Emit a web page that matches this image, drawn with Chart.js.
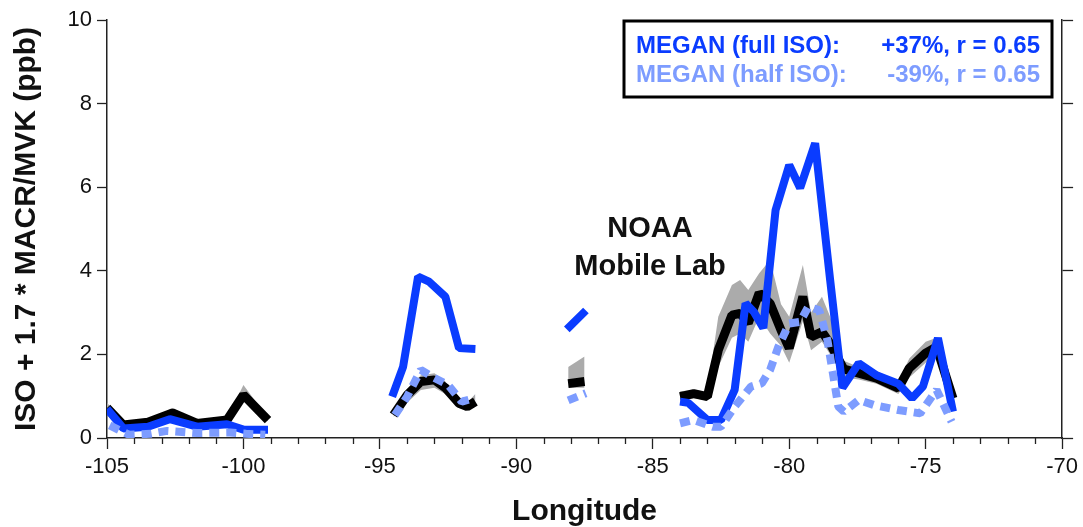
<!DOCTYPE html>
<html>
<head>
<meta charset="utf-8">
<script src="https://cdn.jsdelivr.net/npm/chart.js@4.4.1/dist/chart.umd.min.js"></script>
<style>
  html, body { margin: 0; padding: 0; background: #fff; }
  #wrap { width: 1083px; height: 527px; }
</style>
</head>
<body>
<div id="wrap"><canvas id="isoChart" width="1083" height="527"></canvas></div>
<script>
// Observed ISO + 1.7*MACR/MVK along the track, one sub-array per leg
const obsLon = [
  [-105, -104.4, -103.5, -102.6, -101.7, -100.6, -100, -99.1],
  [-94.5, -94.0, -93.5, -93.0, -92.6, -92.1, -91.8, -91.5],
  [-88.1, -87.5],
  [-84, -83.5, -83, -82.6, -82.1, -81.8, -81.5, -81.1, -80.7, -80.3, -80, -79.5, -79.2, -78.8, -78.5, -78, -77.45, -76.8, -76, -75.6, -75, -74.6, -74]
]
const obsPpb = [
  [0.72, 0.31, 0.38, 0.6, 0.35, 0.43, 1.03, 0.43],
  [0.55, 1.03, 1.35, 1.39, 1.2, 0.83, 0.75, 0.87],
  [1.3, 1.35],
  [0.99, 1.06, 0.99, 2.1, 2.94, 2.98, 2.75, 3.47, 3.22, 2.58, 2.15, 3.38, 2.42, 2.54, 2.26, 1.65, 1.55, 1.43, 1.19, 1.67, 2.03, 2.18, 0.95]
]
// spread of the observations (grey band)
const obsHigh = [
  [0.85, 0.34, 0.42, 0.72, 0.38, 0.47, 1.27, 0.47],
  [0.65, 1.12, 1.5, 1.55, 1.35, 0.95, 0.85, 1.05],
  [1.7, 1.95],
  [1.12, 1.15, 1.1, 2.9, 3.66, 3.78, 3.54, 3.94, 4.26, 3.2, 2.9, 4.14, 3.0, 3.38, 2.9, 1.85, 1.7, 1.6, 1.35, 1.9, 2.3, 2.4, 1.05]
]
const obsLow = [
  [0.65, 0.28, 0.35, 0.52, 0.32, 0.40, 0.95, 0.40],
  [0.5, 0.85, 1.15, 1.2, 1.05, 0.72, 0.68, 0.8],
  [1.2, 1.2],
  [0.9, 0.95, 0.9, 1.7, 2.4, 2.5, 2.3, 2.9, 2.5, 2.2, 1.8, 2.8, 2.1, 2.3, 2.0, 1.45, 1.4, 1.3, 1.05, 1.45, 1.8, 2.0, 0.85]
]

// MEGAN, full isoprene emissions
const fullLon = [
  [-105, -104.4, -103.5, -102.7, -101.7, -100.6, -100, -99.1],
  [-94.55, -94.15, -93.6, -93.2, -92.6, -92.1, -91.5],
  [-88.15, -87.45],
  [-84, -83.7, -83, -82.5, -82, -81.6, -81.3, -80.95, -80.5, -80, -79.6, -79.05, -78.5, -78.05, -77.45, -76.8, -76, -75.5, -75.1, -74.55, -74]
]
const fullPpb = [
  [0.7, 0.23, 0.27, 0.45, 0.27, 0.33, 0.2, 0.2],
  [0.99, 1.7, 3.86, 3.74, 3.38, 2.15, 2.13],
  [2.6, 3.05],
  [0.87, 0.84, 0.43, 0.43, 1.15, 3.22, 3.02, 2.63, 5.45, 6.53, 5.98, 7.05, 3.78, 1.2, 1.79, 1.5, 1.3, 0.95, 1.23, 2.39, 0.63]
]

// MEGAN, half isoprene emissions
const halfLon = [
  [-104.9, -104.2, -103.4, -102.8, -101.7, -100.5, -99.9, -99.2],
  [-94.45, -94.0, -93.5, -93.1, -92.5, -92.0, -91.5],
  [-88.1, -87.45],
  [-84, -83.5, -82.8, -82.5, -82, -81.4, -81, -80.7, -80.4, -80, -79.6, -79.3, -78.9, -78.6, -78.4, -78.2, -78, -77.45, -76.9, -76, -75.2, -74.6, -74.05]
]
const halfPpb = [
  [0.3, 0.08, 0.1, 0.17, 0.12, 0.13, 0.1, 0.08],
  [0.55, 0.99, 1.63, 1.47, 1.27, 0.87, 0.96],
  [0.9, 1.07],
  [0.35, 0.43, 0.27, 0.27, 0.75, 1.23, 1.31, 1.63, 2.18, 2.74, 2.78, 3.14, 3.06, 2.34, 1.55, 0.75, 0.63, 0.91, 0.79, 0.67, 0.59, 1.15, 0.39]
]

const xTicks = [-105, -100, -95, -90, -85, -80, -75, -70]
const yTicks = [0, 2, 4, 6, 8, 10]

const legendRows = [
  { name: "MEGAN (full ISO):", stat: "+37%, r = 0.65" },
  { name: "MEGAN (half ISO):", stat: "-39%, r = 0.65" }
]
const siteLabel = ["NOAA", "Mobile Lab"]

const FULL_BLUE = "#0a3cff"
const HALF_BLUE = "#7d9cff"
const FONT = "'Liberation Sans', Arial, sans-serif"

// join legs into one point list, a null point breaks the line between legs
function toPoints(lons, vals) {
  const pts = []
  lons.forEach((seg, s) => {
    seg.forEach((lon, i) => pts.push({ x: lon, y: vals[s][i] }))
    if (s < lons.length - 1) pts.push({ x: seg[seg.length - 1], y: null })
  })
  return pts
}

// minor ticks every degree, plus the legend box and the site label
const decorations = {
  id: "decorations",
  afterDraw(chart) {
    const { ctx, chartArea, scales } = chart
    const xs = scales.x
    ctx.save()
    ctx.strokeStyle = "#222"
    ctx.lineWidth = 1.3
    for (let lon = -105; lon <= -70; lon++) {
      if (lon % 5 === 0) continue
      const px = Math.round(xs.getPixelForValue(lon)) + 0.5
      ctx.beginPath()
      ctx.moveTo(px, chartArea.bottom)
      ctx.lineTo(px, chartArea.bottom + 6)
      ctx.stroke()
    }

    // NOAA Mobile Lab label
    ctx.fillStyle = "#111"
    ctx.font = "bold 29px " + FONT
    ctx.textAlign = "center"
    ctx.textBaseline = "middle"
    const lx = xs.getPixelForValue(-85.1)
    ctx.fillText(siteLabel[0], lx, scales.y.getPixelForValue(5.0))
    ctx.fillText(siteLabel[1], lx, scales.y.getPixelForValue(4.1))

    // legend box
    const bx = 624, by = 21, bw = 428, bh = 76
    ctx.fillStyle = "#fff"
    ctx.fillRect(bx, by, bw, bh)
    ctx.strokeStyle = "#000"
    ctx.lineWidth = 3
    ctx.strokeRect(bx, by, bw, bh)
    ctx.font = "bold 24px " + FONT
    const colors = [FULL_BLUE, HALF_BLUE]
    legendRows.forEach((row, i) => {
      const ty = 46 + i * 29
      ctx.fillStyle = colors[i]
      ctx.textAlign = "left"
      ctx.fillText(row.name, 636, ty)
      ctx.textAlign = "right"
      ctx.fillText(row.stat, 1040, ty)
    })
    ctx.restore()
  }
}

const tickFont = { family: FONT, size: 22 }

new Chart(document.getElementById("isoChart"), {
  type: "line",
  data: {
    datasets: [
      {
        label: "MEGAN (half ISO)",
        data: toPoints(halfLon, halfPpb),
        borderColor: HALF_BLUE,
        borderWidth: 8,
        borderDash: [10, 7],
        borderCapStyle: "butt",
        borderJoinStyle: "bevel",
        pointRadius: 0,
        fill: false,
        order: 0
      },
      {
        label: "MEGAN (full ISO)",
        data: toPoints(fullLon, fullPpb),
        borderColor: FULL_BLUE,
        borderWidth: 8,
        borderJoinStyle: "bevel",
        pointRadius: 0,
        fill: false,
        order: 1
      },
      {
        label: "Observed",
        data: toPoints(obsLon, obsPpb),
        borderColor: "#000",
        borderWidth: 9,
        borderJoinStyle: "bevel",
        pointRadius: 0,
        fill: false,
        order: 2
      },
      {
        label: "Observed high",
        data: toPoints(obsLon, obsHigh),
        borderWidth: 0,
        borderColor: "rgba(0,0,0,0)",
        backgroundColor: "#ababab",
        pointRadius: 0,
        fill: "+1",
        order: 3
      },
      {
        label: "Observed low",
        data: toPoints(obsLon, obsLow),
        borderWidth: 0,
        borderColor: "rgba(0,0,0,0)",
        pointRadius: 0,
        fill: false,
        order: 4
      }
    ]
  },
  options: {
    responsive: false,
    animation: false,
    layout: { padding: { top: 20, left: 0, right: 0, bottom: 0 } },
    plugins: {
      legend: { display: false },
      tooltip: { enabled: false }
    },
    scales: {
      x: {
        type: "linear",
        min: -105,
        max: -70,
        afterFit: (s) => { s.height = 89 },
        afterBuildTicks: (s) => { s.ticks = xTicks.map((v) => ({ value: v })) },
        grid: { drawOnChartArea: false, drawTicks: true, tickLength: 11, tickColor: "#222", tickWidth: 1.3 },
        border: { display: true, color: "#222", width: 1.5 },
        ticks: { color: "#111", font: tickFont, padding: 5, autoSkip: false, maxRotation: 0 },
        title: {
          display: true,
          text: "Longitude",
          color: "#111",
          font: { family: FONT, size: 30, weight: "bold", lineHeight: 1 },
          padding: { top: 0, bottom: 0 }
        }
      },
      y: {
        position: "left",
        min: 0,
        max: 10,
        afterFit: (s) => { s.width = 107 },
        afterBuildTicks: (s) => { s.ticks = yTicks.map((v) => ({ value: v })) },
        grid: { drawOnChartArea: false, drawTicks: true, tickLength: 10, tickColor: "#222", tickWidth: 1.3 },
        border: { display: true, color: "#222", width: 1.5 },
        ticks: { color: "#111", font: tickFont, padding: 5 },
        title: {
          display: true,
          text: "ISO + 1.7 * MACR/MVK (ppb)",
          color: "#111",
          font: { family: FONT, size: 30, weight: "bold", lineHeight: 1 },
          padding: { top: 12, bottom: 0 }
        }
      },
      y2: {
        position: "right",
        min: 0,
        max: 10,
        afterFit: (s) => { s.width = 16 },
        afterBuildTicks: (s) => { s.ticks = yTicks.map((v) => ({ value: v })) },
        grid: { drawOnChartArea: false, drawTicks: true, tickLength: 11, tickColor: "#222", tickWidth: 1.3 },
        border: { display: true, color: "#222", width: 1.5 },
        ticks: { display: false }
      }
    }
  },
  plugins: [decorations]
})
</script>
</body>
</html>
